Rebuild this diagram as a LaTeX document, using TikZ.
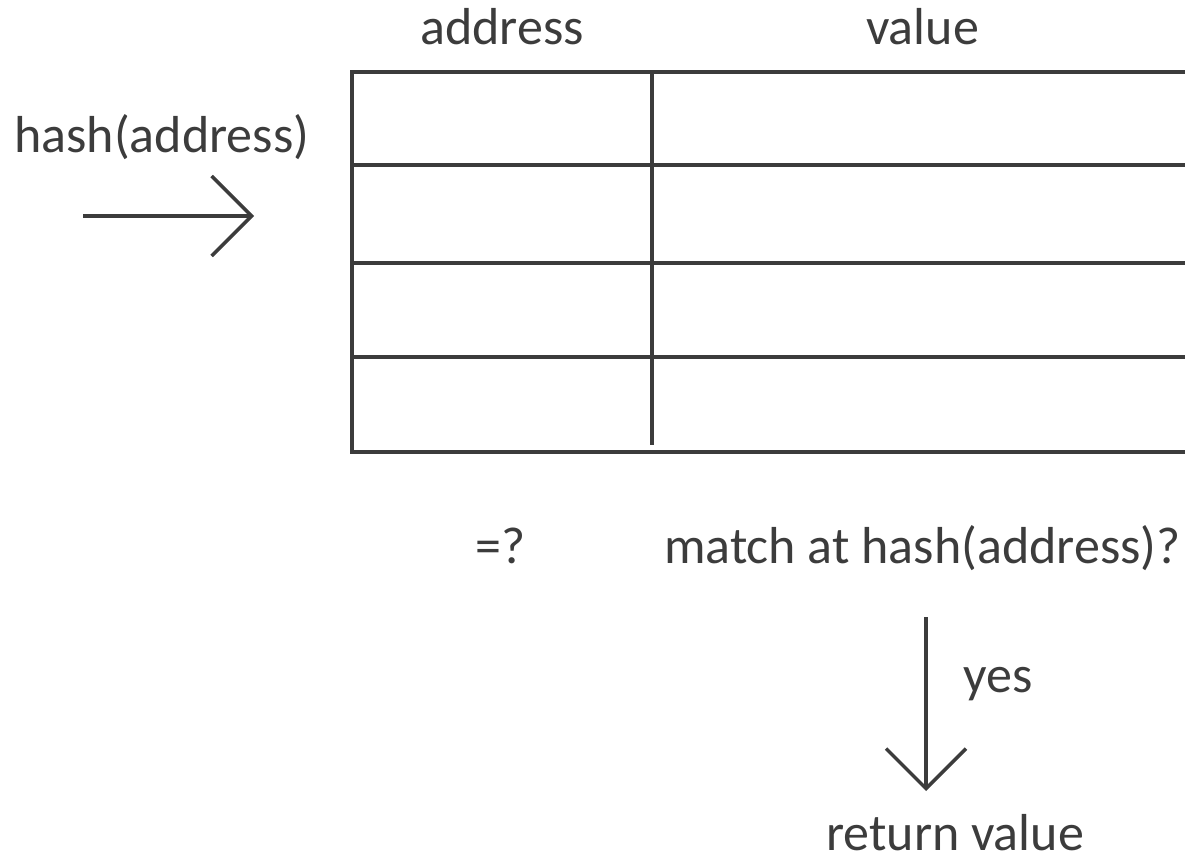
\documentclass[tikz,border=0pt]{standalone}
\usepackage{fontspec}
\setmainfont{Carlito}
\usetikzlibrary{arrows.meta}
\definecolor{ink}{HTML}{3C3C3C}
\tikzset{
  lbl/.style={anchor=base west, inner sep=0pt, text=ink, font=\fontsize{52}{60}\selectfont},
  grid/.style={draw=ink, line width=3.5pt},
  arr/.style={draw=ink, line width=3.5pt, -{Straight Barb[length=40pt,width=80pt]}}
}
\begin{document}
\begin{tikzpicture}[x=1pt,y=-1pt]
\useasboundingbox (0,0) rectangle (1185,861);
% table
\draw[grid] (1190,72) -- (352,72) -- (352,452) -- (1190,452);
\draw[grid] (352,165) -- (1190,165);
\draw[grid] (352,263) -- (1190,263);
\draw[grid] (352,357) -- (1190,357);
\draw[grid] (652,72) -- (652,445);
% labels
\node[lbl] (addr) at (420,45) {address};
\node[lbl] (val) at (866,45) {value};
\node[lbl] (hash) at (14,153) {hash(address)};
\node[lbl] (eq) at (475,563) {=?};
\node[lbl] (match) at (664,563) {match at hash(address)?};
\node[lbl] (yes) at (963,692) {yes};
\node[lbl] (ret) at (826,850) {return value};
% arrows
\coordinate (h1) at (83,216);
\coordinate (h2) at (254,216);
\draw[arr] (h1) -- (h2);
\coordinate (v1) at (926,617);
\coordinate (v2) at (926,791);
\draw[arr] (v1) -- (v2);
\end{tikzpicture}
\end{document}
